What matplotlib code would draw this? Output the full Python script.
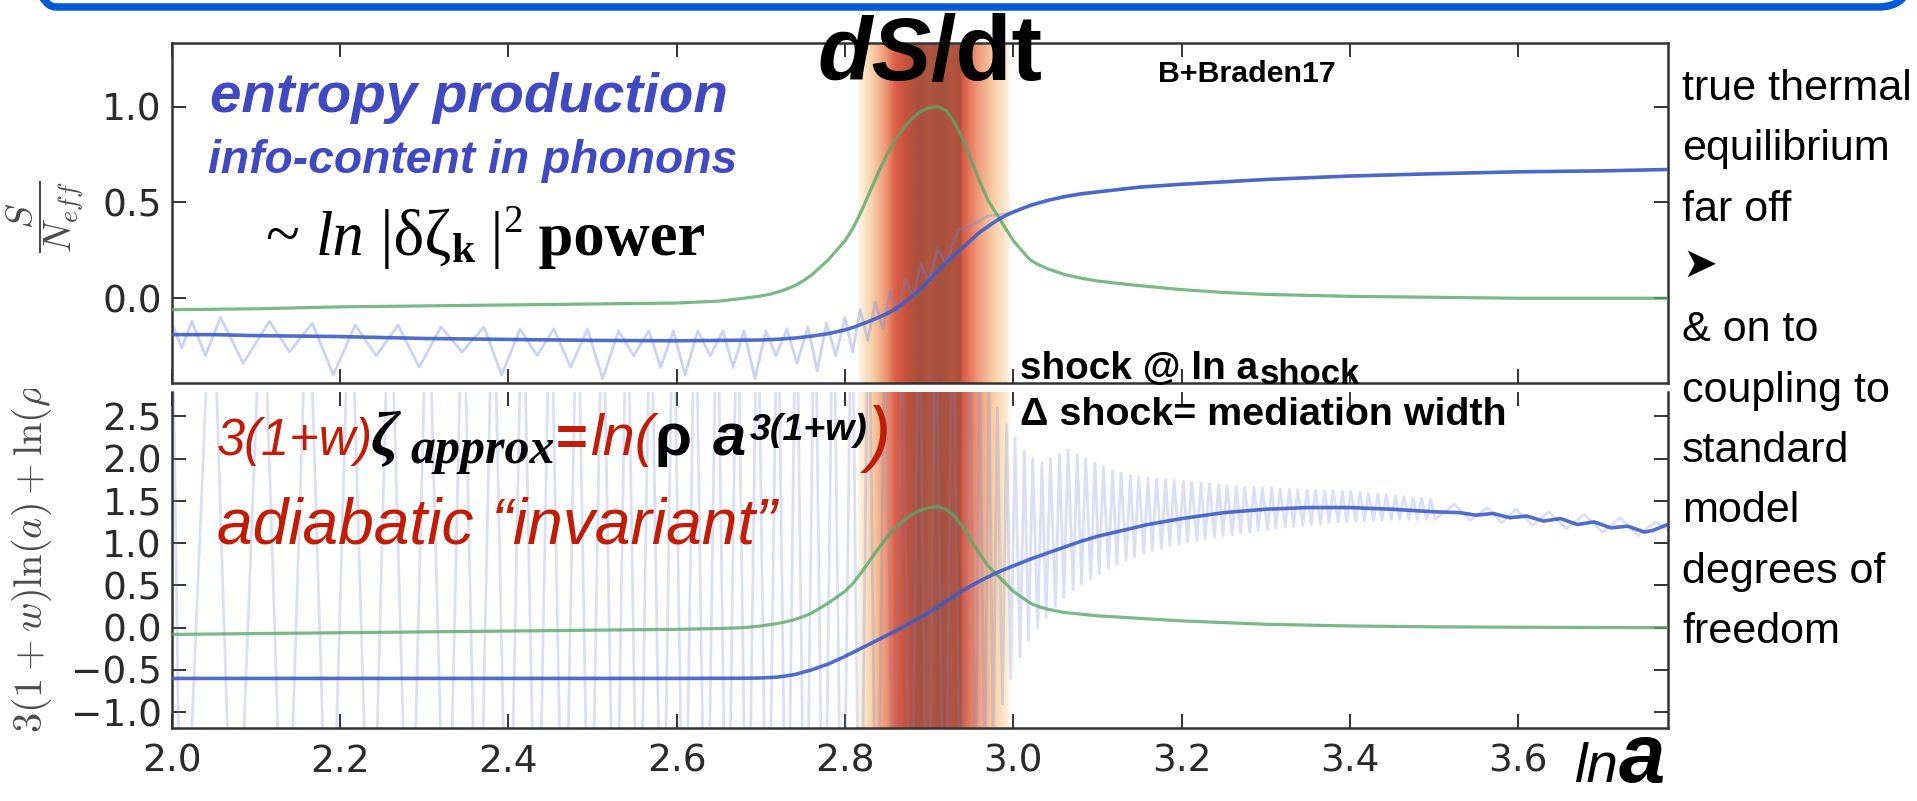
import numpy as np
import matplotlib
matplotlib.use("Agg")
import matplotlib.pyplot as plt
from matplotlib import font_manager
from matplotlib.patches import FancyBboxPatch
from matplotlib.transforms import Bbox, TransformedBbox, IdentityTransform

W, H, DPI = 1917, 801, 100

# ---------------- data ----------------
x_range = (2.0, 3.7775)
x_ticks = [2.0, 2.2, 2.4, 2.6, 2.8, 3.0, 3.2, 3.4, 3.6]
top_yticks = [0.0, 0.5, 1.0]
bot_yticks = [-1.0, -0.5, 0.0, 0.5, 1.0, 1.5, 2.0, 2.5]
top_ylim = (-0.444, 1.334)
bot_ylim = (-1.19, 2.79)
shock_lo, shock_hi = 2.8155, 2.996

# entropy per mode, smoothed (top, blue)
s_top_x = [2.00, 2.05, 2.10, 2.20, 2.30, 2.40, 2.50, 2.60, 2.70, 2.72, 2.74, 2.76, 2.78,
           2.80, 2.81, 2.82, 2.83, 2.84, 2.85, 2.86, 2.87, 2.88, 2.89, 2.90, 2.91, 2.92,
           2.93, 2.94, 2.95, 2.96, 2.97, 2.98, 2.99, 3.00, 3.02, 3.04, 3.06, 3.08, 3.10,
           3.15, 3.20, 3.30, 3.40, 3.50, 3.60, 3.70, 3.7775]
s_top_y = [-0.19, -0.19, -0.195, -0.20, -0.21, -0.215, -0.22, -0.222, -0.218, -0.214,
           -0.208, -0.198, -0.185, -0.165, -0.152, -0.135, -0.118, -0.10, -0.08, -0.055,
           -0.025, 0.01, 0.05, 0.095, 0.14, 0.185, 0.225, 0.265, 0.305, 0.345, 0.375,
           0.405, 0.43, 0.45, 0.485, 0.51, 0.53, 0.545, 0.555, 0.58, 0.595, 0.62, 0.638,
           0.65, 0.66, 0.665, 0.672]

# entropy per mode, raw (top, light blue)
s_top_raw = [(2.000, -0.13), (2.012, -0.26), (2.024, -0.12), (2.040, -0.30), (2.058, -0.10),
             (2.085, -0.34), (2.116, -0.12), (2.140, -0.28), (2.167, -0.13), (2.192, -0.40),
             (2.218, -0.14), (2.243, -0.30), (2.269, -0.14), (2.294, -0.36), (2.320, -0.15),
             (2.345, -0.28), (2.371, -0.15), (2.392, -0.40), (2.414, -0.16), (2.434, -0.30),
             (2.454, -0.16), (2.474, -0.36), (2.494, -0.16), (2.512, -0.42), (2.531, -0.17),
             (2.549, -0.30), (2.567, -0.17), (2.581, -0.36), (2.596, -0.17), (2.610, -0.40),
             (2.625, -0.17), (2.640, -0.30), (2.655, -0.17), (2.667, -0.36), (2.680, -0.17),
             (2.693, -0.42), (2.706, -0.17), (2.718, -0.30), (2.731, -0.16), (2.743, -0.34),
             (2.756, -0.15), (2.767, -0.38), (2.778, -0.13), (2.789, -0.30), (2.800, -0.10),
             (2.809, -0.28), (2.818, -0.06), (2.827, -0.22), (2.836, -0.02), (2.845, -0.16),
             (2.854, 0.04), (2.863, -0.08), (2.872, 0.10), (2.881, 0.00), (2.890, 0.18),
             (2.900, 0.08), (2.910, 0.26), (2.920, 0.18), (2.935, 0.36), (2.950, 0.38),
             (2.970, 0.43), (2.990, 0.44), (3.020, 0.48), (3.050, 0.52), (3.100, 0.555),
             (3.150, 0.58), (3.200, 0.595), (3.300, 0.62), (3.400, 0.638), (3.500, 0.65),
             (3.600, 0.66), (3.700, 0.665), (3.7775, 0.672)]

# entropy production rate dS/dt, normalised (top, green)
dsdt_top_x = [2.00, 2.10, 2.20, 2.30, 2.40, 2.50, 2.60, 2.65, 2.68, 2.70, 2.71, 2.72, 2.73,
              2.74, 2.75, 2.76, 2.77, 2.78, 2.79, 2.80, 2.81, 2.82, 2.83, 2.84, 2.85, 2.86,
              2.87, 2.88, 2.89, 2.90, 2.91, 2.92, 2.93, 2.94, 2.95, 2.96, 2.97, 2.98, 2.99,
              3.00, 3.01, 3.02, 3.03, 3.04, 3.06, 3.08, 3.10, 3.14, 3.20, 3.25, 3.30, 3.40,
              3.50, 3.60, 3.7775]
dsdt_top_y = [-0.06, -0.055, -0.045, -0.04, -0.035, -0.03, -0.025, -0.015, 0.0, 0.012,
              0.02, 0.032, 0.047, 0.065, 0.09, 0.12, 0.16, 0.20, 0.25, 0.30, 0.37, 0.46,
              0.56, 0.66, 0.75, 0.83, 0.89, 0.94, 0.975, 0.995, 1.0, 0.98, 0.92, 0.83, 0.72,
              0.61, 0.51, 0.44, 0.37, 0.30, 0.25, 0.20, 0.175, 0.155, 0.125, 0.105, 0.09,
              0.07, 0.045, 0.03, 0.02, 0.01, 0.005, 0.0, 0.0]

# 3(1+w) ln a + ln rho, smoothed (bottom, blue)
rho_bot_x = [2.00, 2.20, 2.40, 2.60, 2.68, 2.70, 2.72, 2.74, 2.76, 2.78, 2.80, 2.82, 2.84,
             2.86, 2.88, 2.90, 2.92, 2.94, 2.96, 2.98, 3.00, 3.02, 3.04, 3.06, 3.08, 3.10,
             3.13, 3.16, 3.20, 3.25, 3.30, 3.35, 3.40, 3.45, 3.50, 3.53, 3.55, 3.57, 3.59,
             3.61, 3.63, 3.65, 3.67, 3.69, 3.71, 3.73, 3.75, 3.76, 3.7775]
rho_bot_y = [-0.60, -0.60, -0.60, -0.60, -0.598, -0.595, -0.585, -0.555, -0.50, -0.43,
             -0.34, -0.24, -0.14, -0.04, 0.07, 0.18, 0.31, 0.44, 0.55, 0.65, 0.73, 0.81,
             0.88, 0.95, 1.02, 1.08, 1.15, 1.22, 1.29, 1.36, 1.40, 1.42, 1.42, 1.40, 1.37,
             1.36, 1.33, 1.35, 1.30, 1.32, 1.26, 1.29, 1.22, 1.25, 1.18, 1.20, 1.13, 1.15,
             1.22]

# 3(1+w) ln a + ln rho, raw (bottom, light blue): extrema of the oscillation
rho_bot_raw = [(2.000, 4.5), (2.012, -4.0), (2.048, 4.5), (2.075, -4.0), (2.108, 4.5),
               (2.135, -4.0), (2.162, 4.5), (2.188, -4.0), (2.212, 4.5), (2.237, -4.0),
               (2.259, 4.5), (2.283, -4.0), (2.304, 4.5), (2.327, -4.0), (2.346, 4.5),
               (2.364, -4.0), (2.382, 4.5), (2.400, -4.0), (2.417, 4.5), (2.434, -4.0),
               (2.450, 4.5), (2.466, -4.0), (2.482, 4.5), (2.497, -4.0), (2.512, 4.5),
               (2.527, -4.0), (2.541, 4.5), (2.555, -4.0), (2.569, 4.5), (2.583, -4.0),
               (2.596, 4.5), (2.609, -4.0), (2.622, 4.5), (2.635, -4.0), (2.648, 4.5),
               (2.660, -4.0), (2.672, 4.5), (2.684, -4.0), (2.696, 4.5), (2.708, -4.0),
               (2.720, 4.5), (2.731, -4.0), (2.742, 4.5), (2.753, -4.0), (2.764, 4.5),
               (2.775, -4.0), (2.786, 4.5), (2.797, -4.0), (2.808, 4.5), (2.818, -4.0),
               (2.828, 4.5), (2.838, -4.0), (2.848, 4.5), (2.858, -4.0), (2.868, 4.5),
               (2.878, -4.0), (2.888, 4.5), (2.898, -4.0), (2.908, 4.5), (2.918, -4.0),
               (2.928, 4.5), (2.938, -3.5), (2.948, 4.0),
               (2.955, -2.2), (2.960, 3.2), (2.966, -1.8), (2.971, 2.9), (2.976, -1.3),
               (2.981, 2.6), (2.987, -0.9), (2.992, 2.4), (2.997, -0.6), (3.002, 2.25),
               (3.008, -0.35), (3.013, 2.1), (3.018, -0.15), (3.023, 2.0), (3.029, 0.0),
               (3.034, 1.95), (3.039, 0.12), (3.044, 2.0), (3.050, 0.25), (3.055, 2.05),
               (3.060, 0.35), (3.065, 2.1), (3.071, 0.45), (3.076, 2.05), (3.081, 0.52),
               (3.086, 2.0), (3.092, 0.58), (3.097, 1.95), (3.102, 0.64), (3.107, 1.9),
               (3.113, 0.70), (3.118, 1.86), (3.123, 0.75), (3.128, 1.83), (3.134, 0.80),
               (3.139, 1.80), (3.144, 0.84), (3.149, 1.78), (3.155, 0.88), (3.160, 1.77),
               (3.165, 0.91), (3.170, 1.76), (3.176, 0.94), (3.181, 1.75), (3.186, 0.97),
               (3.191, 1.74), (3.197, 0.99), (3.202, 1.73), (3.207, 1.01), (3.212, 1.72),
               (3.218, 1.03), (3.223, 1.71), (3.228, 1.05), (3.233, 1.70), (3.239, 1.07),
               (3.244, 1.69), (3.249, 1.09), (3.254, 1.68), (3.260, 1.10), (3.265, 1.67),
               (3.270, 1.12), (3.275, 1.66), (3.281, 1.13), (3.286, 1.66), (3.291, 1.15),
               (3.296, 1.65), (3.302, 1.16), (3.307, 1.65), (3.312, 1.18), (3.317, 1.64),
               (3.323, 1.19), (3.328, 1.64), (3.333, 1.20), (3.338, 1.63), (3.344, 1.21),
               (3.349, 1.63), (3.354, 1.22), (3.359, 1.62), (3.365, 1.23), (3.370, 1.62),
               (3.375, 1.24), (3.380, 1.62), (3.386, 1.25), (3.391, 1.61), (3.396, 1.25),
               (3.401, 1.61), (3.407, 1.26), (3.412, 1.60), (3.417, 1.26), (3.422, 1.59),
               (3.428, 1.27), (3.433, 1.58), (3.438, 1.27), (3.443, 1.57), (3.449, 1.28),
               (3.454, 1.56), (3.459, 1.28), (3.464, 1.55), (3.470, 1.28), (3.475, 1.54),
               (3.480, 1.28), (3.485, 1.53), (3.491, 1.28), (3.496, 1.52), (3.501, 1.28),
               (3.524, 1.46), (3.543, 1.27), (3.563, 1.42), (3.580, 1.24), (3.597, 1.40),
               (3.617, 1.21), (3.636, 1.37), (3.657, 1.17), (3.678, 1.34), (3.700, 1.13),
               (3.721, 1.30), (3.742, 1.09), (3.763, 1.25), (3.7775, 1.16)]

# dS/dt, normalised (bottom, green)
dsdt_bot_x = [2.00, 2.10, 2.20, 2.30, 2.40, 2.50, 2.60, 2.65, 2.68, 2.70, 2.71, 2.72, 2.73,
              2.74, 2.75, 2.76, 2.77, 2.78, 2.79, 2.80, 2.81, 2.82, 2.83, 2.84, 2.85, 2.86,
              2.87, 2.88, 2.89, 2.90, 2.91, 2.92, 2.93, 2.94, 2.95, 2.96, 2.97, 2.98, 2.99,
              3.00, 3.01, 3.02, 3.03, 3.04, 3.06, 3.08, 3.10, 3.15, 3.20, 3.30, 3.40, 3.50,
              3.60, 3.7775]
dsdt_bot_y = [-0.08, -0.07, -0.06, -0.05, -0.04, -0.03, -0.02, -0.01, 0.0, 0.02, 0.035,
              0.05, 0.07, 0.095, 0.13, 0.17, 0.23, 0.29, 0.36, 0.43, 0.53, 0.66, 0.80, 0.94,
              1.07, 1.18, 1.27, 1.34, 1.39, 1.42, 1.43, 1.40, 1.32, 1.19, 1.03, 0.87, 0.73,
              0.63, 0.53, 0.43, 0.36, 0.29, 0.25, 0.22, 0.18, 0.16, 0.14, 0.11, 0.08, 0.04,
              0.02, 0.01, 0.005, 0.0]

# colour stops of the shock band across ln a
band_stops = [(2.8155, (253, 246, 232)), (2.8333, (247, 205, 165)), (2.850, (236, 145, 112)),
              (2.859, (222, 96, 72)), (2.868, (206, 86, 64)), (2.877, (186, 82, 62)),
              (2.889, (168, 80, 62)), (2.900, (176, 86, 66)), (2.913, (166, 80, 62)),
              (2.927, (178, 84, 64)), (2.937, (172, 80, 60)), (2.940, (214, 92, 70)),
              (2.948, (230, 118, 92)), (2.960, (240, 160, 128)), (2.976, (248, 205, 165)),
              (2.9925, (252, 236, 212)), (2.996, (254, 248, 238))]

# ---------------- styling ----------------
names = {f.name for f in font_manager.fontManager.ttflist}
NARROW = 'Liberation Sans Narrow' if 'Liberation Sans Narrow' in names else 'Liberation Sans'
SANS = 'Liberation Sans'
SERIF = 'Liberation Serif'
TEXT_BLUE = '#4149c0'
TEXT_RED = '#bf1d05'
C_BLUE = '#3d5dc4'
C_RAW = '#6f83d8'
C_GREEN = '#5aa865'
SPINE = '#333333'

plt.rcParams['font.family'] = ['DejaVu Sans']

fig = plt.figure(figsize=(W / DPI, H / DPI), dpi=DPI)
fig.patch.set_facecolor('white')
renderer = fig.canvas.get_renderer()


def fx(px):
    return px / W


def fy(py):
    return 1 - py / H


def axes_px(left, top, right, bottom):
    return fig.add_axes([fx(left), fy(bottom), (right - left) / W, (bottom - top) / H])


def put(x, y, s, width=None, **kw):
    """Text at pixel position (x, baseline y); shrunk if wider than `width` px."""
    kw.setdefault('ha', 'left')
    kw.setdefault('va', 'baseline')
    kw.setdefault('color', 'black')
    t = fig.text(fx(x), fy(y), s, **kw)
    if width is not None:
        w = t.get_window_extent(renderer).width
        if w > width:
            t.set_fontsize(t.get_fontsize() * width / w)
    return t


def text_width(t):
    return t.get_window_extent(renderer).width


ax1 = axes_px(171.7, 42.7, 1667.7, 383.3)
ax2 = axes_px(171.7, 391.7, 1667.7, 728.3)

# shock band image
pos = [p for p, _ in band_stops]
cols = np.array([c for _, c in band_stops], dtype=float) / 255.0
xs_img = np.linspace(shock_lo, shock_hi, 600)
band = np.stack([np.interp(xs_img, pos, cols[:, i]) for i in range(3)], axis=-1)[None, :, :]

for ax, ylim in ((ax1, top_ylim), (ax2, bot_ylim)):
    ax.imshow(band, extent=[shock_lo, shock_hi, ylim[0], ylim[1]], aspect='auto',
              interpolation='bilinear', zorder=0)

# top panel curves
rx, ry = zip(*s_top_raw)
ax1.plot(rx, ry, color=C_RAW, lw=2.0, alpha=0.35, zorder=2)
ax1.plot(dsdt_top_x, dsdt_top_y, color=C_GREEN, lw=2.3, alpha=0.8, zorder=3)
ax1.plot(s_top_x, s_top_y, color=C_BLUE, lw=2.6, alpha=0.9, zorder=4)

# bottom panel curves
bx, by = zip(*rho_bot_raw)
ax2.plot(bx, by, color=C_RAW, lw=2.0, alpha=0.25, zorder=2)
ax2.plot(dsdt_bot_x, dsdt_bot_y, color=C_GREEN, lw=2.3, alpha=0.8, zorder=3)
ax2.plot(rho_bot_x, rho_bot_y, color=C_BLUE, lw=2.6, alpha=0.9, zorder=4)

for ax, ylim, yt in ((ax1, top_ylim, top_yticks), (ax2, bot_ylim, bot_yticks)):
    ax.set_xlim(*x_range)
    ax.set_ylim(*ylim)
    ax.set_xticks(x_ticks)
    ax.set_yticks(yt)
    ax.set_xticklabels([f'{v:.1f}' for v in x_ticks])
    ax.set_yticklabels([f'{v:.1f}'.replace('-', '\u2212') for v in yt])
    ax.tick_params(direction='in', length=10, width=1.4, color=SPINE, top=True, right=True,
                   labelsize=27, labelcolor='#2a2a2a')
    ax.tick_params(axis='x', pad=11)
    ax.tick_params(axis='y', pad=7)
    for sp in ax.spines.values():
        sp.set_linewidth(1.8)
        sp.set_color(SPINE)
    ax.set_facecolor('white')

ax1.tick_params(labelbottom=False)
ax2.spines['top'].set_visible(False)

# axis labels
fig.text(fx(45), fy(217), r'$\dfrac{S}{N_{eff}}$', rotation=90, ha='center', va='center',
         fontsize=27, color='#4a4a4a', math_fontfamily='cm')
yl = fig.text(fx(32), fy(733), r'$3(1+w)\ln(a)+\ln(\rho)$', rotation=90, ha='center',
              va='bottom', fontsize=29, color='#4a4a4a', math_fontfamily='cm')
yl.set_clip_box(TransformedBbox(Bbox([[0, 0], [1, fy(389)]]), fig.transFigure))
yl.set_clip_on(True)

t_ln = put(1574, 782, 'ln', width=44, family=NARROW, style='italic', size=42)
put(1574 + text_width(t_ln) + 1, 782, 'a', width=52, family=NARROW, weight='bold',
    style='italic', size=60)

# frame line running along the top
fig.add_artist(FancyBboxPatch((24, H - 7), 1886, 200,
                              boxstyle='round,pad=0,rounding_size=32',
                              transform=IdentityTransform(), facecolor='none',
                              edgecolor='#005ad6', lw=5.4, clip_on=False))

# annotations, top panel
put(210, 112, 'entropy production', width=517, family=NARROW, weight='bold',
    style='italic', size=49, color=TEXT_BLUE)
put(208, 173, 'info-content in phonons', width=529, family=NARROW, weight='bold',
    style='italic', size=37, color=TEXT_BLUE)

x = 266
for s, dy, kw in [('~ ', 0, dict(size=45)),
                  ('ln', 0, dict(size=45, style='italic')),
                  (' |δζ', 0, dict(size=47)),
                  ('k', 7, dict(size=30, weight='bold')),
                  (' |', 0, dict(size=45)),
                  ('2', -23, dict(size=28)),
                  (' power', 0, dict(size=45, weight='bold'))]:
    t = put(x, 255 + dy, s, family=SERIF, **kw)
    x += text_width(t)

put(817, 80, 'dS', width=114, family=SANS, weight='bold', style='italic', size=67)
put(930, 80, '/dt', width=112, family=SANS, weight='bold', size=67)
put(1158, 82, 'B+Braden17', width=178, family=NARROW, weight='bold', size=27)
put(1020, 378, 'shock @ ln a', width=238, family=NARROW, weight='bold', size=28)
put(1260, 384, 'shock', width=102, family=NARROW, weight='bold', size=25)
put(1020, 425, 'Δ shock= mediation width', width=485, family=NARROW, weight='bold', size=29)

# annotations, bottom panel
put(217, 455, '3(1+w)', width=156, family=NARROW, style='italic', size=43, color=TEXT_RED)
put(371, 455, 'ζ', family=SERIF, weight='bold', style='italic', size=46)
put(410, 463, 'approx', width=146, family=SERIF, weight='bold', style='italic', size=36)
put(556, 455, '=', width=32, family=SANS, weight='bold', size=43, color=TEXT_RED)
put(590, 455, 'ln(', width=64, family=NARROW, style='italic', size=43, color=TEXT_RED)
put(655, 455, 'ρ', width=42, family=SANS, weight='bold', size=43)
put(713, 455, 'a', width=34, family=SANS, weight='bold', style='italic', size=43)
put(750, 440, '3(1+w)', width=118, family=NARROW, weight='bold', style='italic', size=32)
put(866, 458, ')', family=NARROW, style='italic', size=52, color=TEXT_RED)
put(217, 543, 'adiabatic \u201cinvariant\u201d', width=560, family=NARROW, style='italic',
    size=50, color=TEXT_RED)

# side notes
side_lines = ['true thermal', 'equilibrium', 'far off', '\u27a4', '& on to', 'coupling to',
              'standard', 'model', 'degrees of', 'freedom']
probe = put(1682, 100, side_lines[0], width=230, family=[NARROW, 'DejaVu Sans'], size=37.5)
side_size = probe.get_fontsize()
for i, line in enumerate(side_lines[1:], start=1):
    if line == '\u27a4':
        put(1682, 100 + 60.33 * i - 4, line, family=['DejaVu Sans'], size=30)
    else:
        put(1682, 100 + 60.33 * i, line, family=[NARROW, 'DejaVu Sans'], size=side_size)

fig.savefig('out.png', dpi=DPI, facecolor='white')
